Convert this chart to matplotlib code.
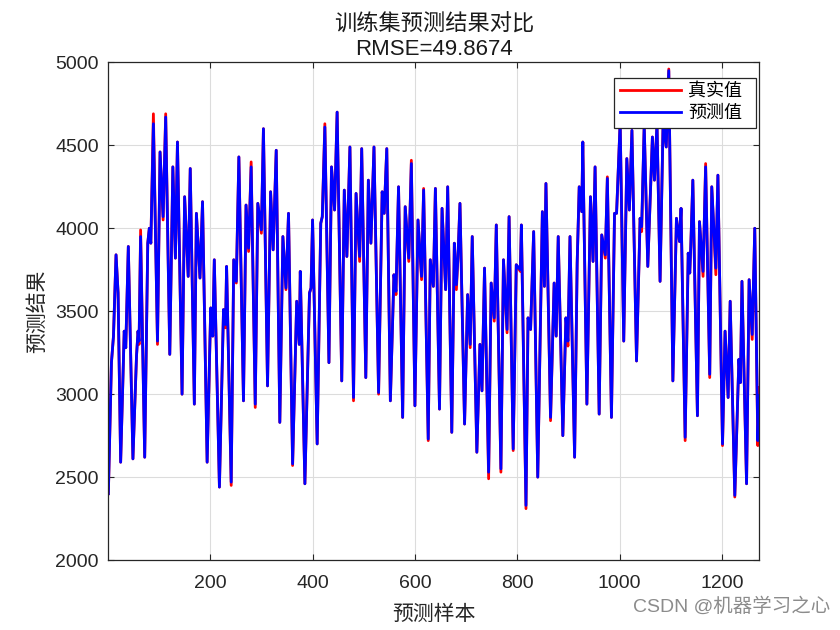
import numpy as np
import matplotlib
matplotlib.use("Agg")
import matplotlib.pyplot as plt

plt.rcParams['font.family'] = ['Liberation Sans', 'Noto Sans CJK SC', 'DejaVu Sans']
plt.rcParams['axes.unicode_minus'] = False

# sample index of each turning point
sample_idx = [
    1, 7, 11, 16, 20, 25, 32, 35, 40, 49, 56, 59, 61, 64, 72, 78, 81, 84, 89, 97,
    102, 108, 113, 121, 127, 132, 136, 145, 150, 157, 161, 169, 173, 180, 185, 194, 201, 205, 208,
    218, 226, 230, 232, 241, 246, 251, 256, 265, 270, 275, 280, 288, 293, 300, 304, 312, 318, 323,
    329, 336, 342, 348, 353, 361, 369, 374, 376, 385, 394, 397, 400, 409, 416, 419,
    424, 432, 437, 443, 448, 457, 462, 467, 473, 480, 485, 492, 496, 504, 509, 514, 520, 529,
    536, 540, 545, 552, 559, 563, 568, 576, 581, 588, 593, 600, 606, 613, 617, 626,
    630, 636, 640, 648, 653, 660, 664, 672, 677, 681, 684, 688, 697, 703, 708, 712, 721, 727,
    731, 736, 744, 749, 755, 759, 768, 773, 780, 784, 792, 798, 806, 808, 817, 821, 826, 832, 840,
    849, 853, 856, 865, 872, 876, 880, 889, 895, 899, 903, 912, 917, 921, 926, 928, 936, 943,
    948, 952, 960, 965, 972, 976, 984, 990, 994, 1001, 1008, 1014, 1019, 1024, 1033, 1040, 1043,
    1048, 1055, 1064, 1068, 1073, 1079, 1085, 1091, 1096, 1104, 1111, 1117, 1120, 1128, 1134,
    1137, 1139, 1143, 1152, 1156, 1163, 1168, 1176, 1180, 1188, 1192, 1201, 1206, 1212, 1216,
    1225, 1233, 1236, 1239, 1248, 1253, 1259, 1264, 1270, 1273,
]

true_vals = [
    2400, 3190, 3350, 3840, 3610, 2590, 3380, 3280, 3890, 2610, 3230, 3380, 3300, 3990, 2620, 3910, 4000, 3910, 4690, 3300,
    4460, 4050, 4690, 3240, 4370, 3820, 4520, 3000, 4190, 3710, 4360, 2940, 4090, 3700, 4160, 2590, 3520, 3350, 3810,
    2440, 3510, 3400, 3770, 2450, 3810, 3670, 4430, 2960, 4140, 3860, 4400, 2920, 4150, 3970, 4600, 3050, 4220, 3870,
    4470, 2830, 3950, 3630, 4090, 2570, 3560, 3300, 3740, 2460, 3610, 3640, 4050, 2700, 4030, 4070,
    4630, 3190, 4370, 4110, 4700, 3080, 4230, 3830, 4490, 2960, 4210, 3800, 4480, 3100, 4290, 3910, 4490, 3000,
    4220, 4090, 4480, 2960, 3720, 3600, 4250, 2860, 4130, 3800, 4410, 2930, 4050, 3690, 4240, 2720,
    3810, 3650, 4240, 2910, 4120, 3630, 4250, 2770, 3910, 3630, 3820, 4150, 2820, 3600, 3280, 3950, 2650, 3300,
    3020, 3760, 2490, 3670, 3440, 4020, 2530, 3810, 3370, 4070, 2660, 3780, 3740, 4020, 2310, 3460, 3390, 3980, 2500,
    4100, 3650, 4270, 2840, 3670, 3350, 3950, 2750, 3460, 3290, 3950, 2620, 3790, 4250, 4100, 4520, 2940, 4190,
    3800, 4370, 2880, 3960, 3820, 4310, 2860, 4090, 4090, 4640, 3320, 4420, 4110, 4590, 3200, 4060, 3980,
    4620, 3770, 4550, 4290, 4630, 3680, 4650, 4490, 4960, 3080, 4060, 3920, 4120, 2720, 3850,
    3730, 3890, 4290, 2870, 4040, 3710, 4390, 3100, 4250, 3720, 4320, 2690, 3380, 2980, 3560,
    2380, 3210, 3070, 3680, 2460, 3690, 3330, 4000, 2690, 3040,
]

pred_vals = [
    2400, 3190, 3350, 3840, 3610, 2590, 3380, 3280, 3890, 2610, 3230, 3380, 3320, 3950, 2620, 3910, 4000, 3910, 4630, 3320,
    4460, 4070, 4670, 3240, 4370, 3820, 4520, 3000, 4190, 3710, 4360, 2940, 4090, 3700, 4160, 2590, 3520, 3350, 3810,
    2440, 3510, 3420, 3770, 2470, 3810, 3680, 4430, 2960, 4140, 3880, 4370, 2940, 4150, 3990, 4600, 3050, 4220, 3870,
    4470, 2830, 3950, 3640, 4090, 2580, 3560, 3300, 3740, 2460, 3610, 3640, 4050, 2700, 4030, 4070,
    4610, 3190, 4370, 4110, 4700, 3080, 4230, 3830, 4490, 2980, 4210, 3830, 4480, 3100, 4290, 3910, 4490, 3010,
    4220, 4090, 4480, 2960, 3720, 3620, 4250, 2860, 4130, 3820, 4390, 2930, 4050, 3710, 4230, 2730,
    3810, 3650, 4240, 2910, 4120, 3630, 4250, 2770, 3910, 3660, 3820, 4150, 2820, 3600, 3300, 3950, 2650, 3300,
    3020, 3760, 2530, 3670, 3460, 4020, 2550, 3810, 3390, 4070, 2670, 3780, 3750, 4020, 2330, 3460, 3390, 3980, 2500,
    4100, 3650, 4270, 2860, 3670, 3350, 3950, 2750, 3460, 3320, 3950, 2620, 3790, 4250, 4100, 4520, 2940, 4190,
    3800, 4370, 2880, 3960, 3840, 4300, 2860, 4090, 4090, 4640, 3320, 4420, 4110, 4590, 3200, 4060, 4010,
    4620, 3770, 4550, 4290, 4630, 3680, 4650, 4490, 4950, 3080, 4060, 3920, 4120, 2740, 3850,
    3730, 3890, 4290, 2870, 4040, 3740, 4370, 3120, 4250, 3760, 4320, 2700, 3380, 2980, 3560,
    2390, 3210, 3070, 3680, 2460, 3690, 3360, 4000, 2720, 2990,
]

n_samples = 1273
rmse_text = 'RMSE=49.8674'

fig = plt.figure(figsize=(8.4, 6.3), dpi=100)
ax = fig.add_axes([0.129, 0.111, 0.775, 0.790])

ax.plot(sample_idx, true_vals, color='red', lw=2.0, label='真实值')
ax.plot(sample_idx, pred_vals, color='blue', lw=2.0, label='预测值')

ax.set_xlim(1, n_samples)
ax.set_ylim(2000, 5000)
ax.set_xticks([200, 400, 600, 800, 1000, 1200])
ax.set_yticks(np.arange(2000, 5001, 500))
ax.grid(True, color='#dcdcdc', lw=0.8)
ax.set_axisbelow(True)
ax.tick_params(direction='in', top=True, right=True, labelsize=14,
               colors='#262626', length=4, width=0.8)
ax.tick_params(axis='x', pad=11)
ax.tick_params(axis='y', pad=7)
for s in ax.spines.values():
    s.set_color('#262626')
    s.set_linewidth(0.9)

ax.set_xlabel('预测样本', fontsize=15, color='#262626', labelpad=9)
ax.set_ylabel('预测结果', fontsize=15, color='#262626', labelpad=6)
ax.set_title('训练集预测结果对比\n' + rmse_text, fontsize=16, color='#1a1a1a',
             linespacing=1.25, pad=5)

leg = ax.legend(loc='upper left', bbox_to_anchor=(0.777, 0.868, 0.218, 0.1),
                mode='expand', borderaxespad=0,
                fontsize=13, fancybox=False, framealpha=1, edgecolor='#262626',
                handlelength=3.4, handletextpad=0.4, borderpad=0.3, labelspacing=0.25)
leg.get_frame().set_linewidth(0.9)

fig.text(0.988, 0.038, 'CSDN @机器学习之心', ha='right', va='center',
         fontsize=14, color='#8c8c8c')

fig.savefig('out.png', dpi=100, facecolor='white')
